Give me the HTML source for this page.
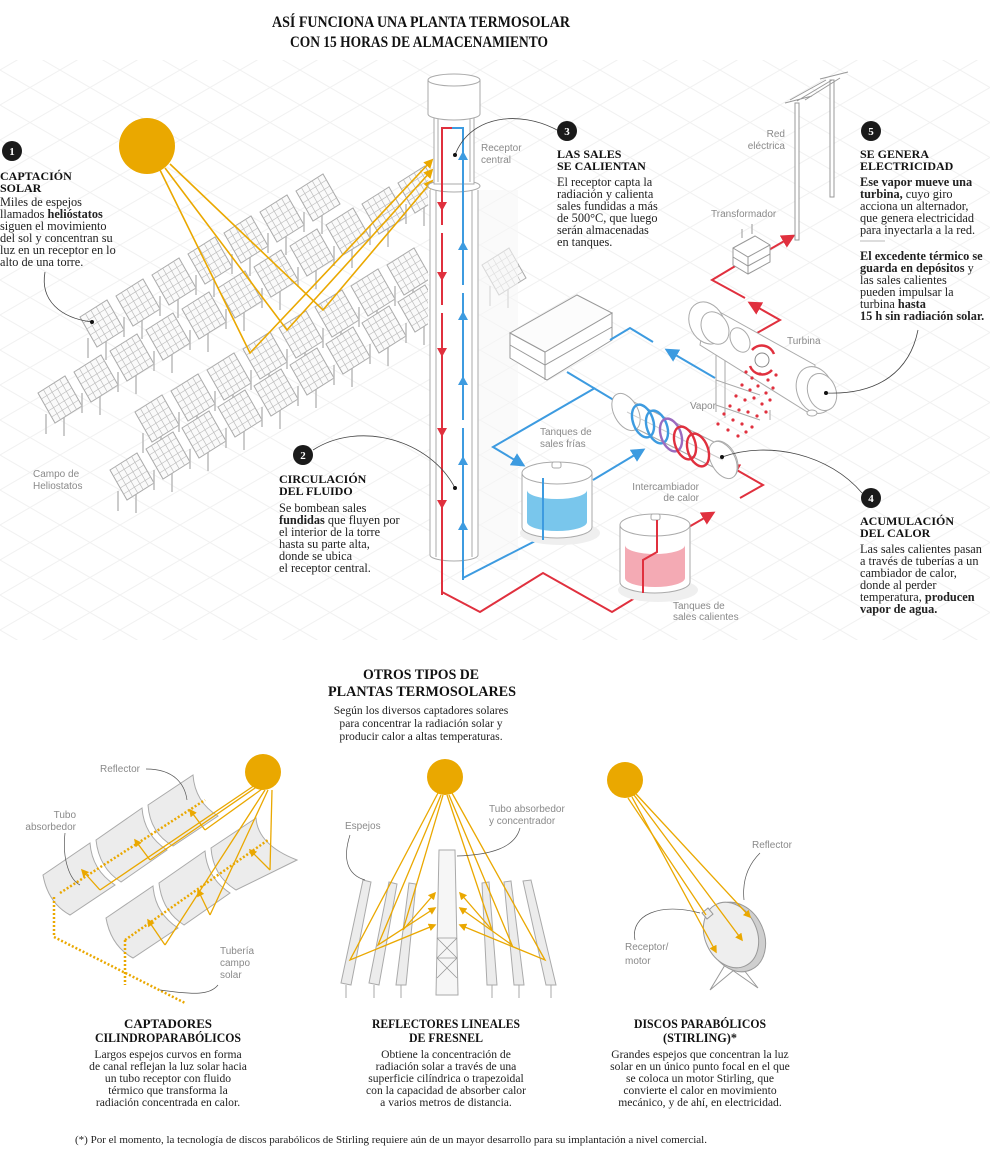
<!DOCTYPE html>
<html><head><meta charset="utf-8"><style>
html,body{margin:0;padding:0;background:#fff}
svg{display:block}
.s{font-family:"Liberation Serif",serif;font-size:12.3px;fill:#222}
.h{font-family:"Liberation Serif",serif;font-size:12px;font-weight:bold;fill:#111}
.b{font-weight:bold}
.l{font-family:"Liberation Sans",sans-serif;font-size:10px;fill:#8a8a8a}
.c{font-family:"Liberation Serif",serif;font-size:11.6px;fill:#222;text-anchor:middle}
.ch{font-family:"Liberation Serif",serif;font-size:13px;font-weight:bold;fill:#111;text-anchor:middle}
.num{font-family:"Liberation Serif",serif;font-size:11px;font-weight:bold;fill:#fff;text-anchor:middle}
</style></head><body>
<svg width="990" height="1165" viewBox="0 0 990 1165" xmlns="http://www.w3.org/2000/svg">
<defs>
<pattern id="grid" width="60" height="35" patternUnits="userSpaceOnUse">
<path d="M0 35L60 0M0 0L60 35" stroke="#f1f1f1" stroke-width="1" fill="none"/>
</pattern>
<g id="hp">
<path d="M8 38V58M26 40V60" stroke="#bbb" stroke-width="1.5"/>
<polygon points="0,17 27,0 44,30 17,47" fill="#fafafa" stroke="#aaa" stroke-width="1"/>
<path d="M5.4 13.6L22.4 43.6M10.8 10.2L27.8 40.2M16.2 6.8L33.2 36.8M21.6 3.4L38.6 33.4M3.4 23L30.4 6M6.8 29L33.8 12M10.2 35L37.2 18M13.6 41L40.6 24" stroke="#bdbdbd" stroke-width="0.7"/>
</g>
<marker id="ar" viewBox="0 0 10 10" refX="8" refY="5" markerWidth="7" markerHeight="7" orient="auto"><path d="M0 0L10 5L0 10z" fill="#e0303e"/></marker>
<marker id="ab" viewBox="0 0 10 10" refX="8" refY="5" markerWidth="7" markerHeight="7" orient="auto"><path d="M0 0L10 5L0 10z" fill="#3d9be0"/></marker>
<marker id="ay" viewBox="0 0 10 10" refX="8" refY="5" markerWidth="6" markerHeight="6" orient="auto"><path d="M0 0L10 5L0 10z" fill="#eaa800"/></marker>
<clipPath id="leftc"><rect x="0" y="60" width="428" height="560"/></clipPath>
</defs>

<rect x="0" y="60" width="990" height="580" fill="url(#grid)"/>

<!-- Title -->
<text x="421" y="27" text-anchor="middle" font-family="Liberation Serif,serif" font-weight="bold" font-size="16" textLength="298" lengthAdjust="spacingAndGlyphs" fill="#111">ASÍ FUNCIONA UNA PLANTA TERMOSOLAR</text>
<text x="419" y="47" text-anchor="middle" font-family="Liberation Serif,serif" font-weight="bold" font-size="16" textLength="258" lengthAdjust="spacingAndGlyphs" fill="#111">CON 15 HORAS DE ALMACENAMIENTO</text>

<!-- Heliostats -->
<g clip-path="url(#leftc)">
<g transform="translate(80,300)"><use href="#hp"/><use href="#hp" x="36" y="-21"/><use href="#hp" x="72" y="-42"/><use href="#hp" x="108" y="-63"/><use href="#hp" x="144" y="-84"/><use href="#hp" x="180" y="-105"/><use href="#hp" x="216" y="-126"/></g>
<g transform="translate(38,376)"><use href="#hp"/><use href="#hp" x="36" y="-21"/><use href="#hp" x="72" y="-42"/><use href="#hp" x="108" y="-63"/><use href="#hp" x="144" y="-84"/><use href="#hp" x="180" y="-105"/><use href="#hp" x="216" y="-126"/><use href="#hp" x="252" y="-147"/><use href="#hp" x="288" y="-168"/><use href="#hp" x="324" y="-189"/><use href="#hp" x="360" y="-210"/></g>
<g transform="translate(135,395)"><use href="#hp"/><use href="#hp" x="36" y="-21"/><use href="#hp" x="72" y="-42"/><use href="#hp" x="108" y="-63"/><use href="#hp" x="144" y="-84"/><use href="#hp" x="180" y="-105"/><use href="#hp" x="216" y="-126"/><use href="#hp" x="252" y="-147"/></g>
<g transform="translate(110,453)"><use href="#hp"/><use href="#hp" x="36" y="-21"/><use href="#hp" x="72" y="-42"/><use href="#hp" x="108" y="-63"/><use href="#hp" x="144" y="-84"/><use href="#hp" x="180" y="-105"/><use href="#hp" x="216" y="-126"/><use href="#hp" x="252" y="-147"/><use href="#hp" x="288" y="-168"/></g>
</g>
<use href="#hp" x="482" y="248"/>

<!-- Sun & rays -->
<circle cx="147" cy="146" r="28" fill="#eaa800"/>
<g stroke="#eaa800" stroke-width="1.6" fill="none">
<path d="M160 170L250 353L432 160" marker-end="url(#ay)"/>
<path d="M165 168L287 330L432 170" marker-end="url(#ay)"/>
<path d="M170 164L323 310L432 181" marker-end="url(#ay)"/>
</g>

<!-- Tower -->
<rect x="478" y="190" width="40" height="370" fill="#f6f6f6" opacity="0.6"/>
<g stroke="#aaa" stroke-width="1" fill="#fff">
<path d="M430 190V555A24 6 0 0 0 478 555V190"/>
<path d="M436 190V557M472 190V557" fill="none"/>
<ellipse cx="454" cy="186" rx="26" ry="6"/>
<rect x="434" y="118" width="40" height="66"/>
<path d="M438 118V182M470 118V182" fill="none"/>
<path d="M428 80V114A26 6 0 0 0 480 114V80" />
<ellipse cx="454" cy="80" rx="26" ry="6"/>
</g>
<g fill="none" stroke-width="2">
<path d="M452 128H442V595" stroke="#e0303e"/>
<path d="M452 128H463V580" stroke="#3d9be0"/>
</g>
<g fill="#e0303e"><path d="M437 202h10l-5 9z"/><path d="M437 272h10l-5 9z"/><path d="M437 348h10l-5 9z"/><path d="M437 428h10l-5 9z"/><path d="M437 500h10l-5 9z"/></g>
<g fill="#3d9be0"><path d="M458 160h10l-5 -9z"/><path d="M458 250h10l-5 -9z"/><path d="M458 320h10l-5 -9z"/><path d="M458 385h10l-5 -9z"/><path d="M458 465h10l-5 -9z"/><path d="M458 530h10l-5 -9z"/></g>
<g fill="#fff"><rect x="440" y="225" width="4" height="8"/><rect x="440" y="305" width="4" height="8"/><rect x="461" y="285" width="4" height="8"/><rect x="461" y="420" width="4" height="8"/></g>

<!-- Box -->
<g stroke="#999" stroke-width="1" fill="#fff">
<polygon points="545,352 612,313 612,340 547,380 510,358 510,333"/>
<polygon points="510,333 577,295 612,313 545,352" fill="#fcfcfc"/>
<path d="M510 345L545 365L612 327M545 352V380" fill="none"/>
</g>

<!-- Pipes blue -->
<g fill="none" stroke="#3d9be0" stroke-width="2">
<path d="M627 408L567 372"/>
<path d="M595 388L493 447L523 465" marker-end="url(#ab)"/>
<path d="M610 340L630 328L653 342"/>
<path d="M715 378L667 350" marker-end="url(#ab)"/>
<path d="M593 480L643 450" marker-end="url(#ab)"/>
<path d="M463 578L543 537V477L557 470"/>
</g>
<!-- Pipes red -->
<g fill="none" stroke="#e0303e" stroke-width="2">
<path d="M442 592L480 612L543 573L612 612L643 593V560L657 552V520"/>
<path d="M687 528L713 513" marker-end="url(#ar)"/>
<path d="M740 498L763 485L728 465" marker-end="url(#ar)"/>
<path d="M757 333L780 320L750 303" marker-end="url(#ar)"/>
<path d="M745 298L712 280L737 265"/>
<path d="M767 251L793 236" marker-end="url(#ar)"/>
</g>

<!-- Tanks -->
<g stroke="#aaa" stroke-width="1">
<ellipse cx="560" cy="533" rx="40" ry="12" fill="#efefef" stroke="none"/>
<path d="M522 473V527A35 11 0 0 0 592 527V473" fill="#fff"/>
<path d="M527 490V522A30 9 0 0 0 587 522V490A30 9 0 0 1 527 490z" fill="#79c6ec" stroke="none"/>
<ellipse cx="557" cy="473" rx="35" ry="11" fill="#fff"/>
<rect x="552" y="462" width="9" height="6" rx="2" fill="#fff"/>
<ellipse cx="658" cy="590" rx="40" ry="12" fill="#efefef" stroke="none"/>
<path d="M620 525V582A35 11 0 0 0 690 582V525" fill="#fff"/>
<path d="M625 545V578A30 9 0 0 0 685 578V545A30 9 0 0 1 625 545z" fill="#f4aab4" stroke="none"/>
<ellipse cx="655" cy="525" rx="35" ry="11" fill="#fff"/>
<rect x="651" y="514" width="9" height="6" rx="2" fill="#fff"/>
</g>
<path d="M543 540V478" stroke="#3d9be0" stroke-width="2"/>
<path d="M643 593V560L657 552V520" stroke="#e0303e" stroke-width="2" fill="none"/>

<!-- Heat exchanger -->
<g stroke="#aaa" stroke-width="1" fill="#fff">
<path d="M618 394L714 442A12 19 -28 0 1 733 477L637 429A12 19 -28 0 1 618 394z"/>
<ellipse cx="626" cy="412" rx="12" ry="20" transform="rotate(-28 626 412)"/>
<ellipse cx="723" cy="460" rx="12" ry="20" transform="rotate(-28 723 460)"/>
</g>
<path d="M627 412L723 460" stroke="#ccc"/>
<g fill="none" stroke-width="2.4">
<ellipse cx="643" cy="421" rx="10" ry="17" stroke="#3d9be0" transform="rotate(-20 643 421)"/>
<ellipse cx="657" cy="427" rx="10" ry="17" stroke="#3d9be0" transform="rotate(-20 657 427)"/>
<ellipse cx="671" cy="435" rx="10" ry="17" stroke="#9a6bc0" transform="rotate(-20 671 435)"/>
<ellipse cx="685" cy="443" rx="10" ry="17" stroke="#e0303e" transform="rotate(-20 685 443)"/>
<ellipse cx="698" cy="450" rx="10" ry="17" stroke="#e0303e" transform="rotate(-20 698 450)"/>
</g>

<!-- Turbine -->
<g stroke="#aaa" stroke-width="1" fill="#fff">
<path d="M716 345V412M725 345V418M716 405L760 420M770 410V420M716 380L760 395" fill="none"/>
<path d="M707 305L815 365L812 415L700 345z"/>
<ellipse cx="707" cy="323" rx="17" ry="22" transform="rotate(-28 707 323)"/>
<ellipse cx="715" cy="328" rx="13" ry="17" transform="rotate(-28 715 328)"/>
<ellipse cx="740" cy="340" rx="9" ry="13" transform="rotate(-28 740 340)"/>
<ellipse cx="815" cy="390" rx="18" ry="24" transform="rotate(-20 815 390)"/>
<ellipse cx="822" cy="392" rx="14" ry="19" transform="rotate(-20 822 392)"/>
<ellipse cx="812" cy="413" rx="5" ry="3"/>
</g>
<circle cx="762" cy="360" r="7" fill="#fff" stroke="#888"/>
<path d="M752 350A13 13 0 0 1 774 354M772 370A13 13 0 0 1 750 366" stroke="#e0303e" stroke-width="2.5" fill="none"/>
<g fill="#e0303e">
<circle cx="746" cy="372" r="1.6"/><circle cx="752" cy="378" r="1.6"/><circle cx="760" cy="374" r="1.6"/><circle cx="768" cy="380" r="1.6"/><circle cx="742" cy="385" r="1.6"/><circle cx="750" cy="390" r="1.6"/><circle cx="758" cy="386" r="1.6"/><circle cx="766" cy="393" r="1.6"/><circle cx="773" cy="388" r="1.6"/><circle cx="736" cy="396" r="1.6"/><circle cx="745" cy="400" r="1.6"/><circle cx="754" cy="398" r="1.6"/><circle cx="762" cy="404" r="1.6"/><circle cx="770" cy="400" r="1.6"/><circle cx="730" cy="406" r="1.6"/><circle cx="739" cy="410" r="1.6"/><circle cx="748" cy="412" r="1.6"/><circle cx="757" cy="416" r="1.6"/><circle cx="766" cy="412" r="1.6"/><circle cx="724" cy="414" r="1.6"/><circle cx="733" cy="420" r="1.6"/><circle cx="742" cy="424" r="1.6"/><circle cx="752" cy="427" r="1.6"/><circle cx="718" cy="424" r="1.6"/><circle cx="728" cy="430" r="1.6"/><circle cx="738" cy="436" r="1.6"/><circle cx="746" cy="432" r="1.6"/><circle cx="776" cy="375" r="1.6"/>
</g>

<!-- Transformer & poles -->
<g stroke="#999" stroke-width="1" fill="#fff">
<path d="M733 248L755 236L770 245V262L748 274L733 265z"/>
<path d="M733 248L748 257L770 245M748 257V274M733 257L748 266L770 254" fill="none"/>
<path d="M742 238V229M752 234V224" fill="none"/>
<rect x="795" y="103" width="4" height="137"/>
<rect x="830" y="80" width="4" height="117"/>
<path d="M785 103L812 96M820 79L848 72M797 101L832 80M790 100L826 80M805 100L840 78" fill="none"/>
</g>

<!-- Labels -->
<text class="l" x="481" y="151">Receptor</text><text class="l" x="481" y="163">central</text>
<text class="l" x="785" y="137" text-anchor="end">Red</text><text class="l" x="785" y="149" text-anchor="end">eléctrica</text>
<text class="l" x="711" y="217">Transformador</text>
<text class="l" x="787" y="344">Turbina</text>
<text class="l" x="690" y="409">Vapor</text>
<text class="l" x="540" y="435">Tanques de</text><text class="l" x="540" y="447">sales frías</text>
<text class="l" x="699" y="490" text-anchor="end">Intercambiador</text><text class="l" x="699" y="501" text-anchor="end">de calor</text>
<text class="l" x="673" y="609">Tanques de</text><text class="l" x="673" y="620">sales calientes</text>
<text class="l" x="33" y="477">Campo de</text><text class="l" x="33" y="489">Heliostatos</text>

<!-- Leaders -->
<g stroke="#444" stroke-width="0.8" fill="none">
<path d="M45 272C40 300 60 318 92 322"/>
<path d="M313 450C360 420 430 440 455 488"/>
<path d="M557 130C520 110 470 115 455 155"/>
<path d="M918 330C910 370 880 395 826 393"/>
<path d="M862 493C830 455 770 440 722 457"/>
</g>
<g fill="#111"><circle cx="92" cy="322" r="2"/><circle cx="455" cy="488" r="2"/><circle cx="455" cy="155" r="2"/><circle cx="826" cy="393" r="2"/><circle cx="722" cy="457" r="2"/></g>

<!-- Badges -->
<g fill="#1a1a1a"><circle cx="12" cy="151" r="10"/><circle cx="303" cy="455" r="10"/><circle cx="567" cy="131" r="10"/><circle cx="871" cy="131" r="10"/><circle cx="871" cy="498" r="10"/></g>
<text class="num" x="12" y="155">1</text><text class="num" x="303" y="459">2</text><text class="num" x="567" y="135">3</text><text class="num" x="871" y="135">5</text><text class="num" x="871" y="502">4</text>

<!-- Text blocks -->
<text class="h" x="0" y="180">CAPTACIÓN</text><text class="h" x="0" y="192">SOLAR</text>
<text class="s" x="0" y="206">Miles de espejos</text>
<text class="s" x="0" y="218">llamados <tspan class="b">helióstatos</tspan></text>
<text class="s" x="0" y="230">siguen el movimiento</text>
<text class="s" x="0" y="242">del sol y concentran su</text>
<text class="s" x="0" y="254">luz en un receptor en lo</text>
<text class="s" x="0" y="266">alto de una torre.</text>

<text class="h" x="279" y="483">CIRCULACIÓN</text><text class="h" x="279" y="495">DEL FLUIDO</text>
<text class="s" x="279" y="512">Se bombean sales</text>
<text class="s" x="279" y="524"><tspan class="b">fundidas</tspan> que fluyen por</text>
<text class="s" x="279" y="536">el interior de la torre</text>
<text class="s" x="279" y="548">hasta su parte alta,</text>
<text class="s" x="279" y="560">donde se ubica</text>
<text class="s" x="279" y="572">el receptor central.</text>

<text class="h" x="557" y="158">LAS SALES</text><text class="h" x="557" y="170">SE CALIENTAN</text>
<text class="s" x="557" y="186">El receptor capta la</text>
<text class="s" x="557" y="198">radiación y calienta</text>
<text class="s" x="557" y="210">sales fundidas a más</text>
<text class="s" x="557" y="222">de 500°C, que luego</text>
<text class="s" x="557" y="234">serán almacenadas</text>
<text class="s" x="557" y="246">en tanques.</text>

<text class="h" x="860" y="158">SE GENERA</text><text class="h" x="860" y="170">ELECTRICIDAD</text>
<text class="s" x="860" y="186"><tspan class="b">Ese vapor mueve una</tspan></text>
<text class="s" x="860" y="198"><tspan class="b">turbina,</tspan> cuyo giro</text>
<text class="s" x="860" y="210">acciona un alternador,</text>
<text class="s" x="860" y="222">que genera electricidad</text>
<text class="s" x="860" y="234">para inyectarla a la red.</text>
<path d="M860 241H885" stroke="#bbb"/>
<text class="s" x="860" y="260"><tspan class="b">El excedente térmico se</tspan></text>
<text class="s" x="860" y="272"><tspan class="b">guarda en depósitos</tspan> y</text>
<text class="s" x="860" y="284">las sales calientes</text>
<text class="s" x="860" y="296">pueden impulsar la</text>
<text class="s" x="860" y="308">turbina <tspan class="b">hasta</tspan></text>
<text class="s" x="860" y="320"><tspan class="b">15 h sin radiación solar.</tspan></text>

<text class="h" x="860" y="525">ACUMULACIÓN</text><text class="h" x="860" y="537">DEL CALOR</text>
<text class="s" x="860" y="553">Las sales calientes pasan</text>
<text class="s" x="860" y="565">a través de tuberías a un</text>
<text class="s" x="860" y="577">cambiador de calor,</text>
<text class="s" x="860" y="589">donde al perder</text>
<text class="s" x="860" y="601">temperatura, <tspan class="b">producen</tspan></text>
<text class="s" x="860" y="613"><tspan class="b">vapor de agua.</tspan></text>

<!-- ===== Bottom section ===== -->
<text x="421" y="679" text-anchor="middle" font-family="Liberation Serif,serif" font-weight="bold" font-size="15" textLength="116" lengthAdjust="spacingAndGlyphs" fill="#111">OTROS TIPOS DE</text>
<text x="422" y="696" text-anchor="middle" font-family="Liberation Serif,serif" font-weight="bold" font-size="15" textLength="188" lengthAdjust="spacingAndGlyphs" fill="#111">PLANTAS TERMOSOLARES</text>
<text class="c" x="421" y="714">Según los diversos captadores solares</text>
<text class="c" x="421" y="727">para concentrar la radiación solar y</text>
<text class="c" x="421" y="740">producir calor a altas temperaturas.</text>

<!-- Troughs -->
<g stroke="#aaa" stroke-width="1" fill="#ececec">
<path d="M43 875L90 843Q92 870 115 885L70 915Q48 903 43 875z"/>
<path d="M96 840L142 808Q144 835 167 850L121 882Q99 868 96 840z"/>
<path d="M148 805L193 775Q195 802 218 816L173 846Q150 833 148 805z"/>
<path d="M106 918L153 886Q155 913 178 928L133 958Q111 946 106 918z"/>
<path d="M159 883L205 851Q207 878 230 893L184 925Q162 911 159 883z"/>
<path d="M211 848L256 818Q258 845 297 860L236 890Q213 876 211 848z"/>
</g>
<g fill="none" stroke="#eaa800" stroke-width="1.3">
<path d="M60 893L205 800" stroke-dasharray="2 2" stroke-width="2.5"/>
<path d="M54 897V937L185 1003" stroke-dasharray="2 2" stroke-width="2.5"/>
<path d="M125 940L268 840" stroke-dasharray="2 2" stroke-width="2.5"/>
<path d="M125 940V985" stroke-dasharray="2 2" stroke-width="2.5"/>
<path d="M255 785L100 890"/><path d="M258 786L150 860"/><path d="M262 789L205 830"/>
<path d="M265 790L165 945"/><path d="M268 790L210 915"/><path d="M272 790L270 870"/>
</g>
<g stroke="#eaa800" stroke-width="1.3" fill="none">
<path d="M100 890L82 870" marker-end="url(#ay)"/><path d="M150 860L135 840" marker-end="url(#ay)"/><path d="M205 830L190 810" marker-end="url(#ay)"/>
<path d="M165 945L148 920" marker-end="url(#ay)"/><path d="M210 915L198 890" marker-end="url(#ay)"/><path d="M270 870L250 850" marker-end="url(#ay)"/>
</g>
<circle cx="263" cy="772" r="18" fill="#eaa800"/>
<text class="l" x="100" y="772">Reflector</text>
<text class="l" x="76" y="818" text-anchor="end">Tubo</text><text class="l" x="76" y="830" text-anchor="end">absorbedor</text>
<text class="l" x="220" y="954">Tubería</text><text class="l" x="220" y="966">campo</text><text class="l" x="220" y="978">solar</text>
<g stroke="#555" stroke-width="0.7" fill="none"><path d="M146 769C175 769 185 785 187 800"/><path d="M65 833C62 860 70 880 80 885"/><path d="M218 985C210 995 195 995 160 990"/></g>

<!-- Fresnel -->
<circle cx="445" cy="777" r="18" fill="#eaa800"/>
<g stroke="#aaa" stroke-width="1" fill="#ececec">
<polygon points="363,880 371,882 351,985 341,983"/>
<polygon points="389,882 397,884 379,985 369,983"/>
<polygon points="409,883 416,884 406,985 396,985"/>
<polygon points="482,883 489,882 497,985 487,985"/>
<polygon points="504,882 511,881 524,985 514,985"/>
<polygon points="523,881 531,880 556,985 546,985"/>
<path d="M439 850H455L458 995H436z" fill="#f6f6f6"/>
</g>
<path d="M437 938L457 958M457 938L437 958M437 958L457 978M457 958L437 978M437 938H457M437 958H457" stroke="#999" stroke-width="0.8"/>
<path d="M346 985V998M374 985V998M401 985V998M492 985V998M519 985V998M551 985V998" stroke="#aaa"/>
<g fill="none" stroke="#eaa800" stroke-width="1.3">
<path d="M438 793L350 960L435 925" marker-end="url(#ay)"/>
<path d="M441 795L378 945L435 908" marker-end="url(#ay)"/>
<path d="M443 795L403 930L435 893" marker-end="url(#ay)"/>
<path d="M452 793L545 960L460 925" marker-end="url(#ay)"/>
<path d="M449 795L512 945L460 908" marker-end="url(#ay)"/>
<path d="M447 795L492 930L460 893" marker-end="url(#ay)"/>
</g>
<text class="l" x="345" y="829">Espejos</text>
<text class="l" x="489" y="812">Tubo absorbedor</text><text class="l" x="489" y="824">y concentrador</text>
<g stroke="#555" stroke-width="0.7" fill="none"><path d="M350 835C342 860 348 875 365 880"/><path d="M520 828C515 848 490 855 457 856"/></g>

<!-- Dish -->
<circle cx="625" cy="780" r="18" fill="#eaa800"/>
<g stroke="#999" stroke-width="1">
<path d="M725 965L710 990M740 965L758 988M725 965L758 988M740 965L710 990" fill="none"/>
<ellipse cx="736" cy="937" rx="28" ry="36" transform="rotate(-25 736 937)" fill="#cfcfcf"/>
<ellipse cx="731" cy="935" rx="26" ry="34" transform="rotate(-25 731 935)" fill="#eeeeee"/>
<polygon points="702,913 708,908 713,914 707,919" fill="#eee"/>
</g>
<g fill="none" stroke="#eaa800" stroke-width="1.3">
<path d="M628 798L706 915"/><path d="M632 797L716 952" marker-end="url(#ay)"/><path d="M634 795L742 940" marker-end="url(#ay)"/><path d="M636 794L750 917" marker-end="url(#ay)"/>
</g>
<text class="l" x="752" y="848">Reflector</text>
<text class="l" x="625" y="950">Receptor/</text><text class="l" x="625" y="964">motor</text>
<g stroke="#555" stroke-width="0.7" fill="none"><path d="M760 853C748 865 742 880 744 900"/><path d="M635 940C630 915 660 902 700 913"/></g>

<!-- Captions -->
<text x="168" y="1028" class="ch" textLength="88" lengthAdjust="spacingAndGlyphs">CAPTADORES</text>
<text x="168" y="1042" class="ch" textLength="146" lengthAdjust="spacingAndGlyphs">CILINDROPARABÓLICOS</text>
<text class="c" x="168" y="1058">Largos espejos curvos en forma</text>
<text class="c" x="168" y="1070">de canal reflejan la luz solar hacia</text>
<text class="c" x="168" y="1082">un tubo receptor con fluido</text>
<text class="c" x="168" y="1094">térmico que transforma la</text>
<text class="c" x="168" y="1106">radiación concentrada en calor.</text>

<text x="446" y="1028" class="ch" textLength="148" lengthAdjust="spacingAndGlyphs">REFLECTORES LINEALES</text>
<text x="446" y="1042" class="ch" textLength="74" lengthAdjust="spacingAndGlyphs">DE FRESNEL</text>
<text class="c" x="446" y="1058">Obtiene la concentración de</text>
<text class="c" x="446" y="1070">radiación solar a través de una</text>
<text class="c" x="446" y="1082">superficie cilíndrica o trapezoidal</text>
<text class="c" x="446" y="1094">con la capacidad de absorber calor</text>
<text class="c" x="446" y="1106">a varios metros de distancia.</text>

<text x="700" y="1028" class="ch" textLength="132" lengthAdjust="spacingAndGlyphs">DISCOS PARABÓLICOS</text>
<text x="700" y="1042" class="ch" textLength="74" lengthAdjust="spacingAndGlyphs">(STIRLING)*</text>
<text class="c" x="700" y="1058">Grandes espejos que concentran la luz</text>
<text class="c" x="700" y="1070">solar en un único punto focal en el que</text>
<text class="c" x="700" y="1082">se coloca un motor Stirling, que</text>
<text class="c" x="700" y="1094">convierte el calor en movimiento</text>
<text class="c" x="700" y="1106">mecánico, y de ahí, en electricidad.</text>

<text x="75" y="1143" font-family="Liberation Serif,serif" font-size="10.5" fill="#222" textLength="632" lengthAdjust="spacingAndGlyphs">(*) Por el momento, la tecnología de discos parabólicos de Stirling requiere aún de un mayor desarrollo para su implantación a nivel comercial.</text>
</svg>
</body></html>
